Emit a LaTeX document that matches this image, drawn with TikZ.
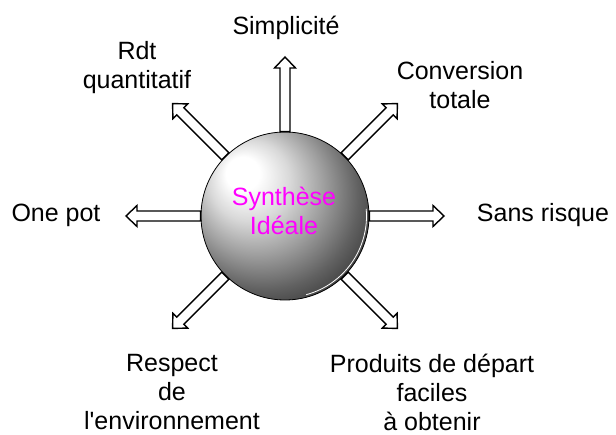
\documentclass[tikz,border=0pt]{standalone}
\usepackage{fontspec}
\setmainfont{Liberation Sans}
\usetikzlibrary{calc}
\definecolor{synmagenta}{RGB}{255,0,255}
\pgfdeclareradialshading{sphereshade}{\pgfpoint{-14bp}{14bp}}{%
  color(0bp)=(white); color(5bp)=(white); color(12bp)=(black!15);
  color(20bp)=(black!38); color(28bp)=(black!62); color(36bp)=(black!82);
  color(44bp)=(black!95); color(50bp)=(black)}
\tikzset{
  lbl/.style={font=\fontsize{25}{29}\selectfont, align=center, inner sep=0pt},
  hollow/.style={draw=black, line width=1.4pt, fill=white, line join=miter},
}
% hollow arrow from #1 to #2
\newcommand{\fatarrow}[2]{%
  \path ($(#2)!11pt!(#1)$) coordinate (fa-h);
  \draw[hollow] ($(#1)!5pt!90:(#2)$) -- ($(fa-h)!5pt!90:(#2)$)
    -- ($(fa-h)!10.5pt!90:(#2)$) -- (#2) -- ($(fa-h)!10.5pt!-90:(#2)$)
    -- ($(fa-h)!5pt!-90:(#2)$) -- ($(#1)!5pt!-90:(#2)$) -- cycle;}
\begin{document}
\begin{tikzpicture}[x=1pt,y=-1pt]
  \useasboundingbox (0,0) rectangle (616,435);
  % Sphere
  \node[circle, minimum size=168pt, inner sep=0pt, shading=sphereshade,
        draw=black, line width=0.8pt] (ball) at (285,216) {};
  \draw[white, line width=0.8pt] (ball.center) ++(-75:81.5pt)
    arc[start angle=-75, end angle=5, radius=81.5pt];
  \node[lbl, text=synmagenta] (ideal) at (284,211) {Synthèse\\Idéale};
  % Arrows
  \foreach \a in {0,45,90,135,180,225,315} {
    \coordinate (tip\a) at ($(ball.center)+(\a:159pt)$);
    \fatarrow{ball.\a}{tip\a}
  }
  % Labels
  \node[lbl] (simp) at (286,28) {Simplicité};
  \node[lbl] (rdt) at (137,68) {Rdt\\quantitatif};
  \node[lbl] (conv) at (460,85) {Conversion\\totale};
  \node[lbl] (onepot) at (56,215) {One pot};
  \node[lbl] (risk) at (543,215) {Sans risque};
  \node[lbl] (env) at (172,392) {Respect\\de\\l\textquotesingle environnement};
  \node[lbl] (prod) at (432,392) {Produits de départ\\faciles\\à obtenir};
\end{tikzpicture}
\end{document}
